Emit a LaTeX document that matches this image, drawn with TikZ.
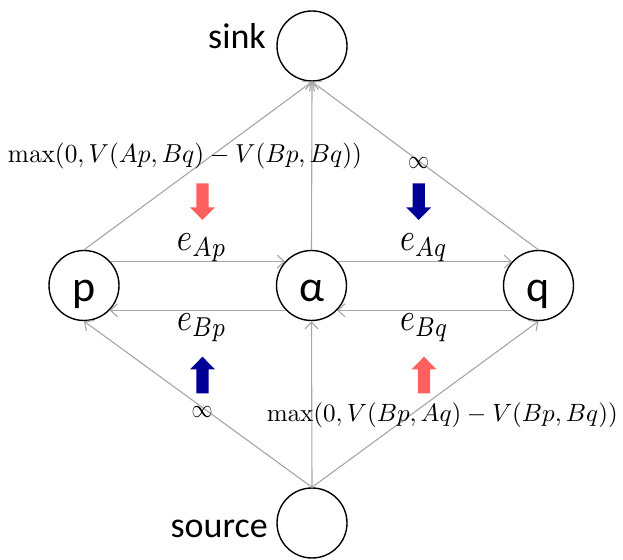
\documentclass[tikz,border=0pt]{standalone}
\usepackage[no-math]{fontspec}
\setmainfont{Carlito}
\usepackage{graphicx}
\usetikzlibrary{arrows.meta}
\definecolor{edgegray}{RGB}{166,166,166}
\definecolor{salmonred}{RGB}{255,95,95}
\definecolor{navyblue}{RGB}{0,0,150}
\tikzset{
  pics/blockarrow/.style={code={
    \fill[#1] (-6.2pt,18.3pt) -- (6.2pt,18.3pt) -- (6.2pt,-5.6pt) -- (12.5pt,-5.6pt)
      -- (0pt,-18.3pt) -- (-12.5pt,-5.6pt) -- (-6.2pt,-5.6pt) -- cycle;}},
}
\begin{document}
\begin{tikzpicture}[x=1pt,y=1pt,
  state/.style={circle, draw=black, line width=1.4pt, minimum size=70pt, inner sep=0pt,
    font=\fontsize{44}{48}\selectfont, text height=32pt, text depth=0pt},
  conn/.style={draw=edgegray, line width=1.1pt, -{Straight Barb[length=7pt,width=13pt]}},
  word/.style={font=\fontsize{36}{40}\selectfont, inner sep=0pt},
  mlab/.style={inner sep=0pt},
]
\useasboundingbox (0,0) rectangle (623,559);

\node[state] (sink) at (312,513) {};
\node[state] (p) at (84,273.5) {p};
\node[state] (al) at (311.5,273.5) {α};
\node[state] (q) at (538.5,273.5) {q};
\node[state] (source) at (312,36) {};

\node[word, anchor=base east] (sinklab) at (266,510) {sink};
\node[word, anchor=base east] (sourcelab) at (268,22) {source};

% edges to sink
\draw[conn] (p.north) -- (sink.south);
\draw[conn] (al.north) -- (sink.south);
\draw[conn] (q.north) -- (sink.south);
% edges from source
\draw[conn] (source.north) -- (p.south);
\draw[conn] (source.north) -- (al.south);
\draw[conn] (source.north) -- (q.south);
% horizontal edges
\draw[conn] (p.42) -- (al.138);
\draw[conn] (al.42) -- (q.138);
\draw[conn] (al.224) -- (p.316);
\draw[conn] (q.224) -- (al.316);

% labels
\node[mlab] (eAp) at (202,311) {\resizebox*{50pt}{28pt}{$e_{Ap}$}};
\node[mlab] (eAq) at (424,311) {\resizebox*{48pt}{28pt}{$e_{Aq}$}};
\node[mlab] (eBp) at (202,231.5) {\resizebox*{50pt}{28pt}{$e_{Bp}$}};
\node[mlab] (eBq) at (424.5,231.5) {\resizebox*{49pt}{28pt}{$e_{Bq}$}};

\node[mlab] (w1) at (185,402.5) {\resizebox*{354pt}{26pt}{$\max(0,V(Ap,Bq)-V(Bp,Bq))$}};
\node[mlab] (w2) at (442.3,143.5) {\resizebox*{351pt}{25pt}{$\max(0,V(Bp,Aq)-V(Bp,Bq))$}};

\node[mlab] (inf1) at (418.5,396.3) {\resizebox{21pt}{11pt}{$\infty$}};
\node[mlab] (inf2) at (202,147) {\resizebox{21pt}{11pt}{$\infty$}};

% block arrows
\pic at (202.5,357.3) {blockarrow=salmonred};
\pic at (418.7,357.3) {blockarrow=navyblue};
\pic[rotate=180] at (202.5,184) {blockarrow=navyblue};
\pic[rotate=180] at (424,184) {blockarrow=salmonred};
\end{tikzpicture}
\end{document}
